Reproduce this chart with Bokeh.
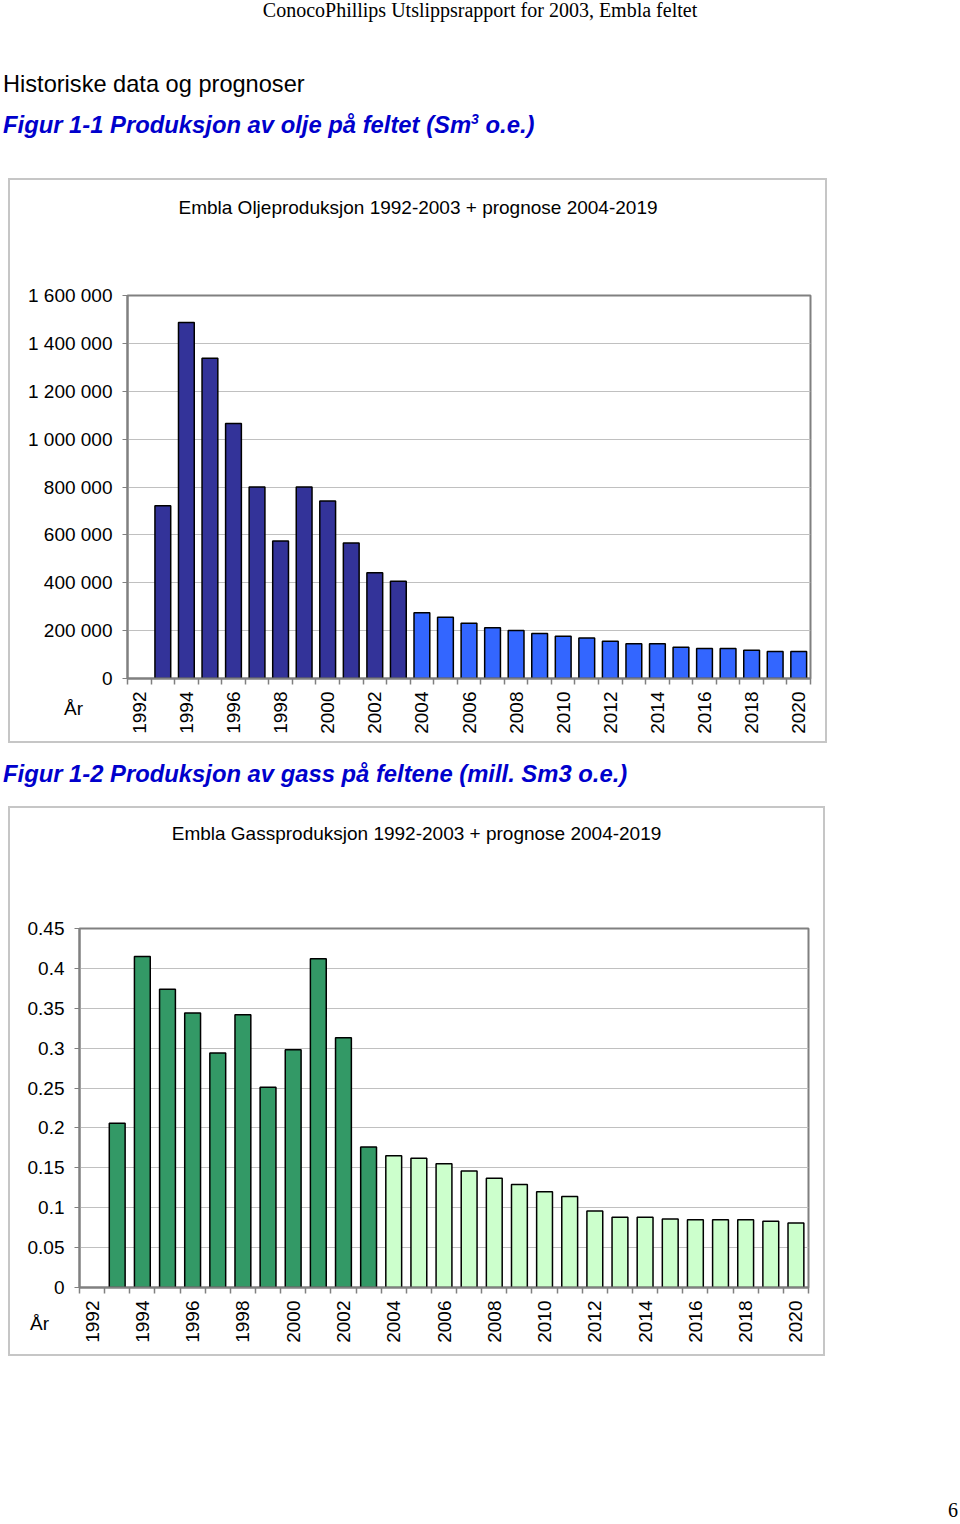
import math
from bokeh.plotting import figure
from bokeh.models import Range1d, FixedTicker, Label, Div, Spacer
from bokeh.layouts import column, row
from bokeh.embed import file_html
from bokeh.resources import INLINE

# ---------------- texts ----------------
header_text = "ConocoPhillips Utslippsrapport for 2003, Embla feltet"
section_text = "Historiske data og prognoser"
fig1_caption = 'Figur 1-1 Produksjon av olje på feltet (Sm<sup style="font-size:14px;">3</sup> o.e.)'
fig2_caption = "Figur 1-2 Produksjon av gass på feltene (mill. Sm3 o.e.)"
oil_title = "Embla Oljeproduksjon 1992-2003 + prognose 2004-2019"
gas_title = "Embla Gassproduksjon 1992-2003 + prognose 2004-2019"
axis_title = "År"
page_number = "6"

# ---------------- data ----------------
hist_years = [1993, 1994, 1995, 1996, 1997, 1998, 1999, 2000, 2001, 2002, 2003]
prog_years = [2004, 2005, 2006, 2007, 2008, 2009, 2010, 2011, 2012, 2013,
              2014, 2015, 2016, 2017, 2018, 2019, 2020]

oil_hist = [722000, 1487000, 1338000, 1065000, 800000, 574000, 800000,
            741000, 566000, 442000, 406000]
oil_prog = [275000, 256000, 231000, 212000, 201000, 188000, 176000, 169000,
            156000, 145000, 145000, 131000, 125000, 125000, 118000, 113000, 113000]

gas_hist = [0.206, 0.415, 0.374, 0.344, 0.294, 0.342, 0.251, 0.298, 0.412,
            0.313, 0.176]
gas_prog = [0.165, 0.162, 0.155, 0.146, 0.137, 0.129, 0.120, 0.114, 0.096,
            0.088, 0.088, 0.086, 0.085, 0.085, 0.085, 0.083, 0.081]

year_ticks = [1992, 1994, 1996, 1998, 2000, 2002, 2004, 2006, 2008, 2010,
              2012, 2014, 2016, 2018, 2020]
year_labels = ["1992", "1994", "1996", "1998", "2000", "2002", "2004", "2006",
               "2008", "2010", "2012", "2014", "2016", "2018", "2020"]
year_bounds = [1991.5, 1992.5, 1993.5, 1994.5, 1995.5, 1996.5, 1997.5, 1998.5,
               1999.5, 2000.5, 2001.5, 2002.5, 2003.5, 2004.5, 2005.5, 2006.5,
               2007.5, 2008.5, 2009.5, 2010.5, 2011.5, 2012.5, 2013.5, 2014.5,
               2015.5, 2016.5, 2017.5, 2018.5, 2019.5, 2020.5]

oil_ticks = [0, 200000, 400000, 600000, 800000, 1000000, 1200000, 1400000, 1600000]
oil_tick_labels = ["0", "200 000", "400 000", "600 000", "800 000", "1 000 000",
                   "1 200 000", "1 400 000", "1 600 000"]
gas_ticks = [0, 0.05, 0.1, 0.15, 0.2, 0.25, 0.3, 0.35, 0.4, 0.45]
gas_tick_labels = ["0", "0.05", "0.1", "0.15", "0.2", "0.25", "0.3", "0.35",
                   "0.4", "0.45"]

FONT = "Liberation Sans"
FS = "19px"


def make_chart(width, height, b_left, b_right, b_top, b_bottom, title,
               title_dx, title_dy, ymax, yticks, ylabels,
               hist, prog, c_hist, c_prog, bar_w, ar_dx, ar_dy):
    x0, x1 = year_bounds[0], year_bounds[-1]
    p = figure(width=width, height=height, output_backend="svg",
               toolbar_location=None,
               x_range=Range1d(x0, x1), y_range=Range1d(0, ymax),
               min_border_left=b_left, min_border_right=b_right,
               min_border_top=b_top, min_border_bottom=b_bottom,
               styles={"box-shadow": "0 0 0 2px #c6c6c6"})
    p.background_fill_color = "white"
    p.border_fill_color = "white"
    p.outline_line_color = "#808080"
    p.outline_line_width = 2

    # pixel offset (from plot-area left / bottom) -> data units, for texts
    fw = width - b_left - b_right
    fh = height - b_top - b_bottom
    def dx(px):
        return x0 + px * (x1 - x0) / fw
    def dy(px):
        return px * ymax / fh

    p.vbar(x=hist_years, top=hist, width=bar_w, fill_color=c_hist,
           line_color="black", line_width=1.5)
    p.vbar(x=prog_years, top=prog, width=bar_w, fill_color=c_prog,
           line_color="black", line_width=1.5)

    # x axis
    xa = p.xaxis[0]
    xa.ticker = FixedTicker(ticks=year_ticks, minor_ticks=year_bounds)
    xa.major_label_overrides = dict(zip(year_ticks, year_labels))
    xa.major_label_orientation = math.pi / 2
    xa.major_tick_in = 0
    xa.major_tick_out = 0
    xa.minor_tick_in = 0
    xa.minor_tick_out = 6
    xa.minor_tick_line_color = "#808080"
    xa.minor_tick_line_width = 1.5
    xa.axis_line_color = "#808080"
    xa.axis_line_width = 2
    xa.major_label_standoff = 7
    xa.major_label_text_font = FONT
    xa.major_label_text_font_size = FS
    xa.major_label_text_color = "black"

    # y axis
    ya = p.yaxis[0]
    ya.ticker = FixedTicker(ticks=yticks)
    ya.major_label_overrides = dict(zip(yticks, ylabels))
    ya.major_tick_in = 0
    ya.major_tick_out = 5
    ya.major_tick_line_color = "#808080"
    ya.minor_tick_out = 0
    ya.minor_tick_in = 0
    ya.axis_line_color = "#808080"
    ya.axis_line_width = 2
    ya.major_label_standoff = 10
    ya.major_label_text_font = FONT
    ya.major_label_text_font_size = FS
    ya.major_label_text_color = "black"

    p.xgrid.visible = False
    p.ygrid.grid_line_color = "#c0c0c0"
    p.ygrid.grid_line_width = 1.2

    # chart title (centred on the chart box) and the "År" axis title;
    # placed in the top side panel so they are not clipped to the plot area
    p.add_layout(Label(x=dx(title_dx), y=ymax + dy(title_dy), text=title,
                       text_font=FONT, text_font_size=FS,
                       text_align="center", text_baseline="alphabetic",
                       text_color="black"), "above")
    p.add_layout(Label(x=dx(ar_dx), y=-dy(ar_dy), text=axis_title,
                       text_font=FONT, text_font_size=FS,
                       text_align="center", text_baseline="middle",
                       text_color="black"), "above")
    return p


# oil chart box: x 10..825, y 180..741 ; plot area x 127..810, y 295..678
p1 = make_chart(815, 561, 117, 15, 115, 63, oil_title, 290.5, 88,
                1600000, oil_ticks, oil_tick_labels, oil_hist, oil_prog,
                "#333399", "#3366FF", 0.67, -54, 30)
# gas chart box: x 10..823, y 808..1354 ; plot area x 79..808, y 928..1287
p2 = make_chart(813, 546, 69, 15, 120, 67, gas_title, 337, 95,
                0.45, gas_ticks, gas_tick_labels, gas_hist, gas_prog,
                "#339966", "#CCFFCC", 0.63, -40, 36)

sans = "font-family:'Liberation Sans',Arial,sans-serif;"
serif = "font-family:'Liberation Serif','Times New Roman',serif;"
blue = "color:#0000CC;font-weight:bold;font-style:italic;"

div_top = Div(width=960, height=180, margin=0, text=(
    '<div style="position:relative;width:960px;height:180px;">'
    f'<div style="position:absolute;left:0;top:0px;width:960px;text-align:center;{serif}font-size:20px;line-height:20px;color:black;white-space:nowrap;">{header_text}</div>'
    f'<div style="position:absolute;left:3px;top:72px;{sans}font-size:23.6px;line-height:24px;color:black;white-space:nowrap;">{section_text}</div>'
    f'<div style="position:absolute;left:3px;top:107px;{sans}font-size:23.8px;line-height:24px;{blue}white-space:nowrap;">{fig1_caption}</div>'
    '</div>'))

div_mid = Div(width=960, height=67, margin=0, text=(
    '<div style="position:relative;width:960px;height:67px;">'
    f'<div style="position:absolute;left:3px;top:21px;{sans}font-size:23.8px;line-height:24px;{blue}white-space:nowrap;">{fig2_caption}</div>'
    '</div>'))

div_bot = Div(width=960, height=166, margin=0, text=(
    '<div style="position:relative;width:960px;height:166px;">'
    f'<div style="position:absolute;right:2px;top:146px;{serif}font-size:20px;line-height:20px;color:black;">{page_number}</div>'
    '</div>'))

layout = column(div_top,
                row(Spacer(width=10, height=561), p1),
                div_mid,
                row(Spacer(width=10, height=546), p2),
                div_bot)

open("out.html", "w").write(file_html(layout, INLINE))
